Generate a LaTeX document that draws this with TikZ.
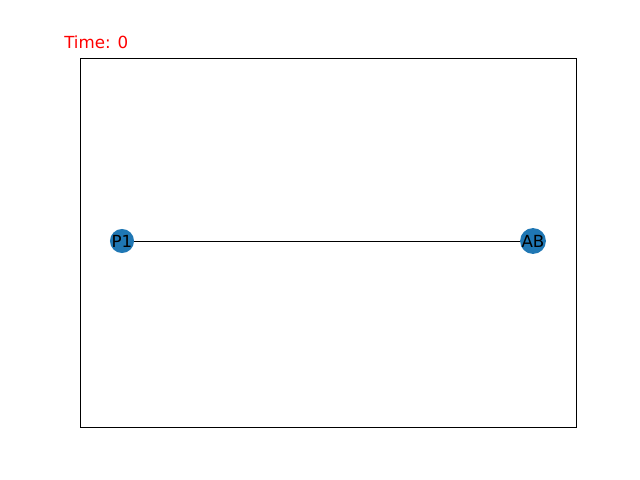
\documentclass[tikz,border=0pt]{standalone}
\usepackage{fontspec}
\setmainfont{DejaVu Sans}
\definecolor{nodeblue}{HTML}{1F77B4}
\tikzset{
  vertex/.style={circle,fill=nodeblue,minimum size=17.3pt,inner sep=0pt,font=\fontsize{12}{14}\selectfont},
  edge/.style={black,line width=0.72pt}
}
\begin{document}
\begin{tikzpicture}[x=0.72pt,y=-0.72pt]

% canvas
\useasboundingbox (0,0) rectangle (640,480);

% axes frame
\draw[line width=0.58pt] (80,58) rectangle (576,427);

% title
\node[anchor=base west,inner sep=0pt,text=red,font=\fontsize{12}{14}\selectfont] (title) at (64,48) {Time: 0};

% graph
\node[vertex] (p1) at (122,241) {P1};
\node[vertex] (ab) at (533,241) {AB};
\draw[edge] (p1) -- (ab);

\end{tikzpicture}
\end{document}
